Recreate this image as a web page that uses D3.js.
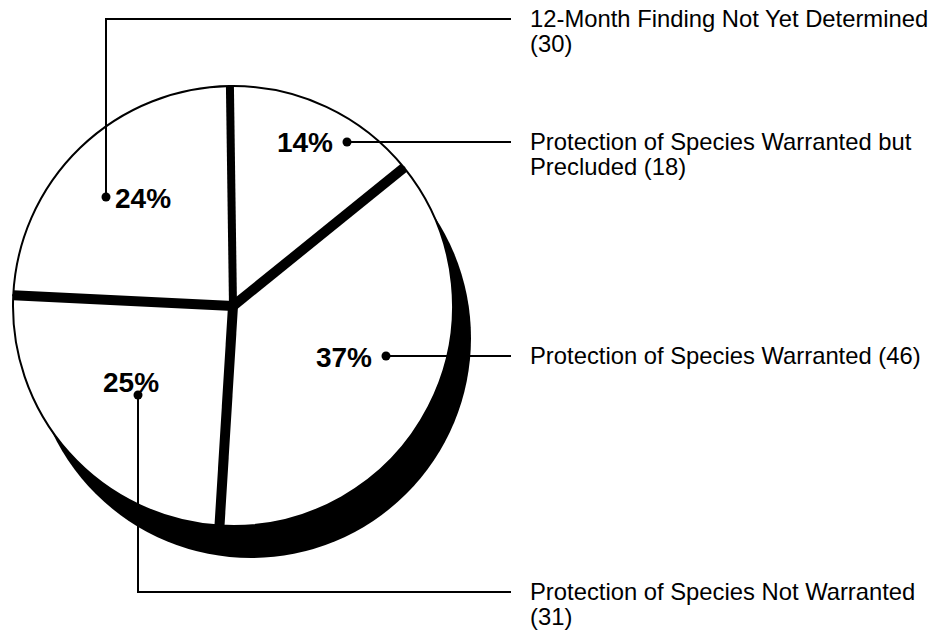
<!DOCTYPE html>
<html>
<head>
<meta charset="utf-8">
<script src="https://cdn.jsdelivr.net/npm/d3@7"></script>
<style>
  html, body { margin: 0; padding: 0; background: #fff; }
  svg { display: block; }
  text { font-family: "Liberation Sans", Arial, Helvetica, sans-serif; fill: #000; }
</style>
</head>
<body>
<svg id="chart" width="944" height="635"></svg>
<script>
// ---- data ----
const categories = [
  "Protection of Species Warranted but Precluded",
  "Protection of Species Warranted",
  "Protection of Species Not Warranted",
  "12-Month Finding Not Yet Determined"
];
const counts = [18, 46, 31, 30];
const legendLines = [
  ["Protection of Species Warranted but", "Precluded (18)"],
  ["Protection of Species Warranted (46)"],
  ["Protection of Species Not Warranted", "(31)"],
  ["12-Month Finding Not Yet Determined", "(30)"]
];

// ---- layout ----
const W = 944, H = 635;
const cx = 233, cy = 306, R = 220;
const shadowDx = 18, shadowDy = 32;
const legendX = 530, lineEndX = 511, lineGap = 25;
const gapWidth = 10;
// callout geometry per slice: dot, label anchor, leader route
const callouts = [
  { dot: [347, 142], label: [333, 152], anchor: "end",   route: "h", y: 142 },
  { dot: [386, 356], label: [372, 367], anchor: "end",   route: "h", y: 356 },
  { dot: [138, 395], label: [103, 392], anchor: "start", route: "v", y: 592 },
  { dot: [106, 197], label: [115, 208], anchor: "start", route: "v", y: 19 }
];

const svg = d3.select("#chart");
const total = d3.sum(counts);

const pie = d3.pie().sort(null).value(d => d)
  .startAngle(-0.014).endAngle(2 * Math.PI - 0.014);
const arcs = pie(counts);

// shadow
svg.append("circle")
  .attr("cx", cx + shadowDx).attr("cy", cy + shadowDy).attr("r", R)
  .attr("fill", "#000");

const pg = svg.append("g").attr("transform", `translate(${cx},${cy})`);
const arcGen = d3.arc().innerRadius(0).outerRadius(R);

pg.selectAll("path.slice").data(arcs).join("path")
  .attr("class", "slice")
  .attr("d", arcGen)
  .attr("fill", "#fff")
  .attr("stroke", "#000").attr("stroke-width", 2);

// black separations between slices
pg.selectAll("line.gap").data(arcs).join("line")
  .attr("class", "gap")
  .attr("x1", 0).attr("y1", 0)
  .attr("x2", d => d3.pointRadial(d.startAngle, R)[0])
  .attr("y2", d => d3.pointRadial(d.startAngle, R)[1])
  .attr("stroke", "#000")
  .attr("stroke-width", (d, i) => i === 0 ? gapWidth - 2 : gapWidth)
  .attr("stroke-linecap", "butt");

// leader lines, dots, labels
const g = svg.append("g");
callouts.forEach((c, i) => {
  const pts = c.route === "h"
    ? [c.dot, [lineEndX, c.y]]
    : [c.dot, [c.dot[0], c.y], [lineEndX, c.y]];
  g.append("path")
    .attr("d", d3.line()(pts))
    .attr("fill", "none").attr("stroke", "#000").attr("stroke-width", 2);
  g.append("circle")
    .attr("cx", c.dot[0]).attr("cy", c.dot[1]).attr("r", 4.5)
    .attr("fill", "#000");
  g.append("text")
    .attr("x", c.label[0]).attr("y", c.label[1])
    .attr("text-anchor", c.anchor)
    .attr("font-size", 28).attr("font-weight", "bold")
    .text(Math.round(counts[i] / total * 100) + "%");
  const t = g.append("text")
    .attr("x", legendX).attr("y", c.y + 8)
    .attr("font-size", 23.8);
  legendLines[i].forEach((ln, j) => {
    t.append("tspan").attr("x", legendX).attr("y", c.y + 8 + j * lineGap).text(ln);
  });
});
</script>
</body>
</html>
